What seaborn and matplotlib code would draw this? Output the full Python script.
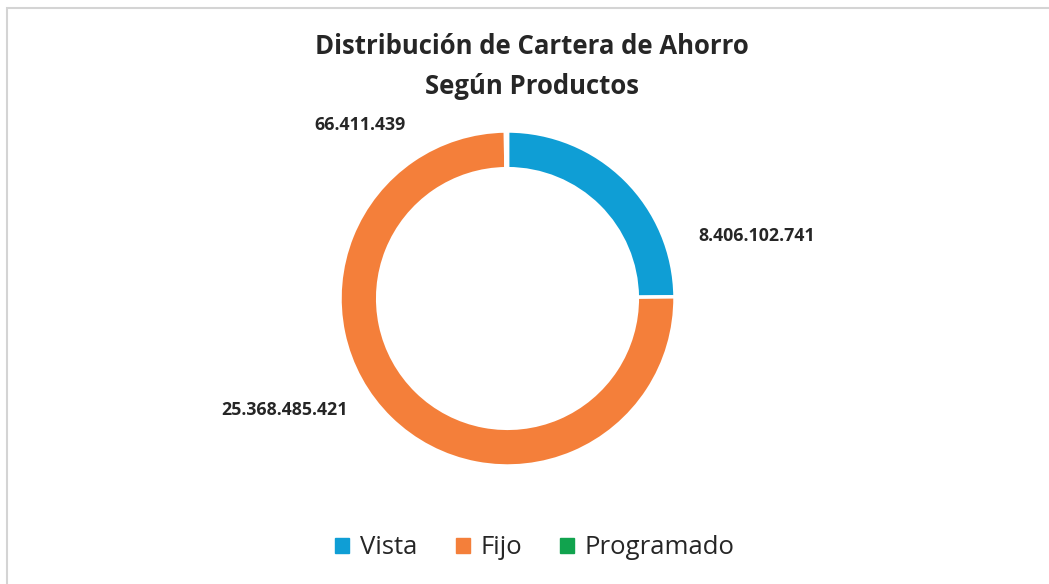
import matplotlib
matplotlib.use("Agg")
import matplotlib.pyplot as plt
import matplotlib.patches as mpatches
import seaborn as sns
import numpy as np

# Data
products = ["Vista", "Fijo", "Programado"]
balances = [8406102741, 25368485421, 66411439]
label_texts = ["8.406.102.741", "25.368.485.421", "66.411.439"]
colors = ["#0F9ED5", "#F47F3A", "#11A34E"]

title_lines = ["Distribución de Cartera de Ahorro", "Según Productos"]

W, H = 1049, 584


def px(x, y):
    # pixel (from top-left) -> figure fraction
    return x / W, 1 - y / H


sns.set_theme(style="white")
plt.rcParams["font.family"] = ["Open Sans", "DejaVu Sans"]

fig = plt.figure(figsize=(W / 100, H / 100), dpi=100)
fig.patch.set_facecolor("white")

# light gray chart frame (runs off the right and bottom edges)
x0, y0 = px(7, 8)
frame = mpatches.Rectangle((x0, -0.1), 1.2, y0 + 0.1, transform=fig.transFigure,
                           fill=False, edgecolor="#D4D4D4", linewidth=1.5)
fig.patches.append(frame)

# donut axes: center (507.5, 298.5) px, outer radius 167.5 px
cx, cy, r = 507.5, 298.5, 167.5
ax = fig.add_axes([(cx - r) / W, (H - cy - r) / H, 2 * r / W, 2 * r / H])
wedges, _ = ax.pie(balances, colors=colors, startangle=90, counterclock=False,
                   radius=1.0,
                   wedgeprops=dict(width=0.225, edgecolor="white", linewidth=2.5))
ax.set_xlim(-1, 1)
ax.set_ylim(-1, 1)
ax.set_aspect("equal")
ax.axis("off")

# value labels
label_pos = [(1.49, 0.373), (-1.33, -0.666), (-0.88, 1.036)]
for txt, (lx, ly) in zip(label_texts, label_pos):
    ax.text(lx, ly, txt, ha="center", va="center", fontsize=12.8,
            fontweight="bold", color="#262626", clip_on=False)

# title
tx, ty = px(532, 47)
fig.text(tx, ty, title_lines[0], ha="center", va="center", fontsize=18.5,
         fontweight="bold", color="#262626")
tx, ty = px(532, 86)
fig.text(tx, ty, title_lines[1], ha="center", va="center", fontsize=18.5,
         fontweight="bold", color="#262626")

# legend
handles = [mpatches.Patch(facecolor=c, edgecolor=c) for c in colors]
lx, ly = px(535, 548)
fig.legend(handles, products, loc="center", bbox_to_anchor=(lx, ly), ncol=3,
           frameon=False, fontsize=18.5, handlelength=0.55, handleheight=0.55,
           handletextpad=0.4, columnspacing=1.5, labelcolor="#262626")

fig.savefig("out.png", dpi=100)
